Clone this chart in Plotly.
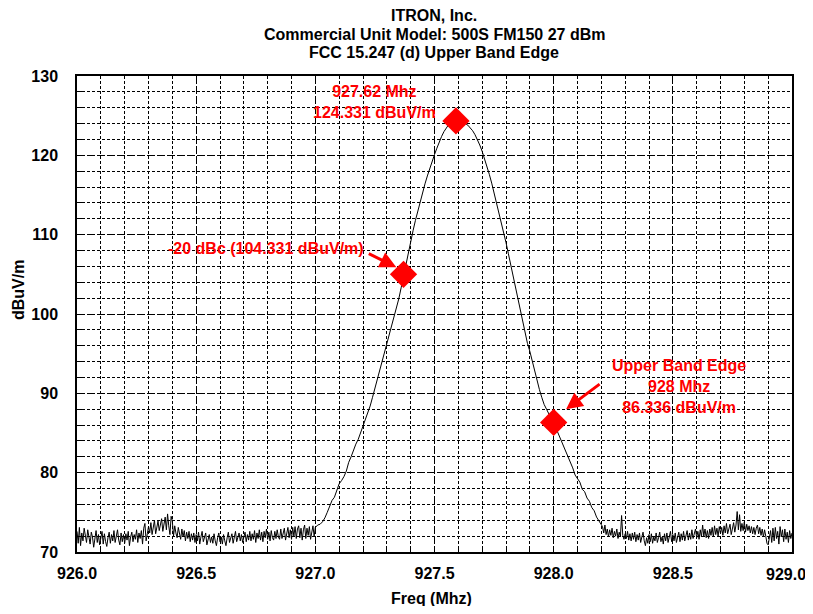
import numpy as np
import plotly.graph_objects as go

# ---------------- data ----------------
STEP_NOISE = 0.005
STEP_LOBE = 0.01
LEFT_START = 926.0
LOBE_START = 927.0
RIGHT_START = 928.205

noise_left = [
    72.6, 71.1, 73.1, 70.8, 72.4, 71.4, 73.0, 72.1, 71.2, 72.8, 71.6, 71.0, 72.5, 71.9, 70.6, 71.7, 72.7, 71.2, 72.2, 70.9,
    71.6, 72.6, 71.0, 72.3, 71.3, 70.7, 71.8, 72.5, 71.1, 72.2, 71.4, 72.7, 71.2, 71.9, 72.8, 71.5, 70.9, 72.4, 71.3, 72.2,
    71.1, 72.3, 71.5, 72.6, 70.8, 71.9, 72.5, 71.3, 72.2, 71.6, 72.8, 71.2, 72.4, 71.7, 72.7, 71.0, 73.0, 73.6, 71.4, 72.3,
    73.2, 72.4, 73.7, 72.2, 73.4, 74.0, 72.3, 73.3, 73.9, 72.7, 73.6, 74.2, 72.6, 73.8, 74.4, 72.8, 74.8, 73.3, 72.2, 74.5,
    73.9, 72.0, 73.3, 72.4, 71.8, 73.1, 72.1, 71.6, 72.9, 71.9, 72.7, 71.4, 72.5, 71.7, 72.6, 71.3, 72.3, 71.5, 72.4, 71.2,
    72.2, 71.4, 72.5, 71.0, 71.9, 72.6, 71.3, 71.8, 72.4, 70.9, 71.7, 72.2, 71.2, 71.9, 71.1, 72.3, 71.4, 70.8, 71.8, 72.4,
    71.3, 71.9, 71.0, 72.2, 71.4, 70.8, 71.8, 72.5, 71.2, 71.7, 72.3, 71.1, 71.9, 72.6, 71.3, 71.8, 72.4, 71.4, 72.2, 71.2,
    71.9, 72.5, 71.3, 72.2, 71.5, 72.6, 71.4, 72.3, 71.6, 72.7, 71.2, 72.4, 71.7, 72.8, 71.5, 72.5, 71.3, 72.6, 71.8, 72.9,
    71.6, 72.5, 71.4, 72.7, 71.8, 71.5, 72.6, 71.7, 72.8, 71.9, 71.6, 72.9, 71.7, 72.5, 73.0, 71.5, 72.6, 73.1, 71.8, 72.8,
    71.6, 73.1, 72.0, 73.2, 71.7, 72.9, 73.3, 71.8, 73.0, 71.5, 72.8, 73.4, 71.7, 73.0, 72.1, 73.2, 71.6, 72.7, 73.3, 72.0,
]

lobe = [
    73.1, 73.4, 73.5, 73.8, 74.3, 75.0, 75.8, 76.5, 76.9, 77.8,
    78.6, 79.0, 79.5, 80.2, 81.3, 82.0, 82.9, 83.6, 84.2, 85.0,
    85.8, 86.7, 87.5, 88.4, 89.5, 90.6, 91.7, 92.8, 93.9, 95.0,
    96.1, 97.2, 98.3, 99.5, 100.7, 101.9, 103.3, 104.8, 106.3, 107.8,
    109.2, 110.5, 111.8, 113.0, 114.2, 115.3, 116.4, 117.4, 118.4, 119.3,
    120.1, 120.9, 121.7, 122.4, 123.0, 123.5, 123.9, 124.1, 124.3, 124.33,
    124.3, 124.2, 124.1, 124.0, 123.8, 123.5, 123.1, 122.6, 122.0, 121.3,
    120.5, 119.6, 118.6, 117.6, 116.5, 115.3, 114.1, 112.9, 111.6, 110.3,
    109.0, 107.6, 106.2, 104.8, 103.3, 101.9, 100.4, 99.0, 97.6, 96.3,
    95.3, 94.0, 92.8, 91.6, 90.5, 89.5, 88.6, 88.0, 87.3, 86.8,
    86.3, 85.6, 84.8, 84.0, 83.4, 82.6, 81.9, 81.2, 80.6, 79.7,
    79.3, 78.8, 77.9, 77.6, 76.8, 76.4, 75.6, 75.2, 74.4, 73.9,
    73.4,
]

noise_right = [
    73.2, 72.4, 73.4, 72.2, 72.9, 71.9, 72.8, 72.1, 73.0, 71.8, 72.6, 72.0, 72.9, 71.7, 72.5, 71.9, 74.6, 72.1, 71.6, 72.3,
    71.7, 72.6, 71.5, 72.3, 71.4, 72.4, 71.6, 72.5, 71.3, 72.2, 71.5, 72.4, 71.2, 71.9, 72.5, 71.4, 70.8, 71.8, 71.1, 72.2,
    71.3, 72.3, 71.1, 71.9, 71.4, 72.4, 71.2, 71.8, 72.5, 71.3, 71.9, 71.0, 72.3, 71.4, 72.4, 71.2, 71.8, 72.6, 71.3, 72.2,
    71.4, 72.4, 71.2, 71.9, 72.5, 71.3, 72.3, 71.5, 72.6, 71.4, 72.2, 72.7, 71.5, 72.4, 71.6, 72.8, 71.7, 72.5, 72.9, 71.8,
    72.6, 71.6, 72.8, 71.9, 73.4, 72.0, 72.9, 71.8, 72.7, 71.7, 72.9, 72.1, 73.1, 71.9, 73.3, 72.2, 73.0, 72.0, 73.2, 72.3,
    73.1, 72.1, 73.3, 72.4, 73.6, 72.3, 73.1, 73.5, 72.2, 73.0, 73.7, 72.5, 73.4, 75.1, 72.8, 74.7, 72.6, 73.6, 72.7, 73.8,
    72.5, 73.5, 72.7, 73.3, 72.4, 73.2, 72.3, 73.1, 72.2, 73.0, 73.4, 72.3, 73.1, 72.1, 72.9, 71.9, 72.8, 72.0, 71.1, 70.9,
    71.8, 72.7, 71.2, 73.0, 71.4, 73.1, 71.7, 72.6, 71.0, 73.2, 71.9, 72.8, 71.3, 72.9, 71.6, 72.5, 71.2, 72.7, 71.7, 72.4,
]

marker_freq = [927.59, 927.37, 928.0]
marker_level = [124.331, 105.0, 86.336]

title_lines = ["ITRON, Inc.", "Commercial Unit Model: 500S FM150 27 dBm", "FCC 15.247 (d) Upper Band Edge"]
x_ticks = [926.0, 926.5, 927.0, 927.5, 928.0, 928.5, 929.0]
y_ticks = [70, 80, 90, 100, 110, 120, 130]

# ---------------- build ----------------
f_left = LEFT_START + STEP_NOISE * np.arange(len(noise_left))
f_lobe = LOBE_START + STEP_LOBE * np.arange(len(lobe))
f_right = RIGHT_START + STEP_NOISE * np.arange(len(noise_right))
freq = np.concatenate([f_left, f_lobe, f_right])
level = np.concatenate([noise_left, lobe, noise_right])

FONT = "Liberation Sans, Arial, sans-serif"
RED = "#ff0000"
OFF = 8  # page body margin
W, H = 813 - 2 * OFF, 614 - 2 * OFF
ML, MT = 77 - OFF, 76 - OFF
MR = W - (792 - OFF)
MB = H - (552 - OFF)
PW, PH = W - ML - MR, H - MT - MB


def px_x(px):
    return (px - OFF - ML) / PW


def px_y(py):
    return (H - MB - (py - OFF)) / PH


fig = go.Figure()
fig.add_trace(go.Scatter(x=freq, y=level, mode="lines",
                         line=dict(color="black", width=1), hoverinfo="skip"))
fig.add_trace(go.Scatter(x=marker_freq, y=marker_level, mode="markers",
                         marker=dict(symbol="diamond", size=21, color=RED, line=dict(width=0))))

TICKFONT = dict(family=FONT, size=16, color="black", weight="bold")
axis_common = dict(
    showline=True, linecolor="black", linewidth=1.5, mirror=True,
    showgrid=True, gridcolor="black", gridwidth=1, griddash="7px,3px",
    ticks="inside", ticklen=6, tickcolor="black", tickwidth=1,
    tickfont=TICKFONT, zeroline=False, automargin=False,
)

# last x label sits at the page edge; it is drawn nudged inward so it stays whole
x_ticktext = [f"{v:.1f}" for v in x_ticks[:-1]] + [""]
fig.update_xaxes(**axis_common, range=[926.0, 929.0], tickvals=x_ticks, ticktext=x_ticktext,
                 minor=dict(dtick=0.1, tick0=926.0, showgrid=True, gridcolor="black",
                            gridwidth=1, griddash="3px,2px", ticks="inside", ticklen=5,
                            tickcolor="black"),
                 ticklabelstandoff=6)
fig.add_annotation(x=px_x(786), y=px_y(574), xref="paper", yref="paper",
                   text=f"{x_ticks[-1]:.1f}", showarrow=False, xanchor="center", yanchor="middle",
                   font=TICKFONT)
fig.update_yaxes(**axis_common, range=[70, 130], tickvals=y_ticks,
                 minor=dict(dtick=2, tick0=70, showgrid=True, gridcolor="black",
                            gridwidth=1, griddash="3px,2px", ticks="inside", ticklen=5,
                            tickcolor="black"),
                 ticklabelstandoff=14)

annots = [
    dict(x=927.25, y=126.68, text="927.62 Mhz<br>124.331 dBuV/m"),
    dict(x=926.793, y=108.2, text="-20 dBc (104.331 dBuV/m)"),
    dict(x=928.526, y=90.87, text="Upper Band Edge<br>928 Mhz<br>86.336 dBuV/m"),
]
for a in annots:
    fig.add_annotation(**a, xref="x", yref="y", showarrow=False,
                       font=dict(family=FONT, size=16, color=RED, weight="bold"), align="center")

arrows = [
    dict(x=927.34, y=105.9, ax=927.218, ay=107.7),
    dict(x=928.052, y=88.0, ax=928.199, ay=91.3),
]
for a in arrows:
    fig.add_annotation(**a, xref="x", yref="y", axref="x", ayref="y", text="", showarrow=True,
                       arrowhead=2, arrowsize=1.1, arrowwidth=3, arrowcolor=RED)

# titles
for txt, yc in zip(title_lines, [15, 34, 53]):
    fig.add_annotation(x=px_x(434), y=px_y(yc), xref="paper", yref="paper", text=txt, showarrow=False,
                       xanchor="center", yanchor="middle",
                       font=dict(family=FONT, size=16, color="black", weight="bold"))

fig.add_annotation(x=px_x(18), y=px_y(290), xref="paper", yref="paper", text="dBuV/m", showarrow=False,
                   textangle=-90, xanchor="center", yanchor="middle",
                   font=dict(family=FONT, size=16, color="black", weight="bold"))
fig.add_annotation(x=px_x(431), y=px_y(598), xref="paper", yref="paper", text="Freq (Mhz)", showarrow=False,
                   xanchor="center", yanchor="middle",
                   font=dict(family=FONT, size=16, color="black", weight="bold"))

fig.update_layout(
    width=W, height=H,
    margin=dict(l=ML, r=MR, t=MT, b=MB, autoexpand=False),
    paper_bgcolor="white", plot_bgcolor="white",
    showlegend=False,
)

fig.write_html("out.html")
